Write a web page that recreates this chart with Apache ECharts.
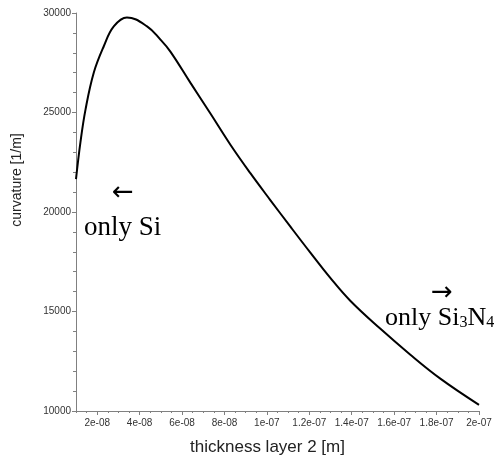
<!DOCTYPE html>
<html>
<head>
<meta charset="utf-8">
<script src="https://cdn.jsdelivr.net/npm/echarts@6/dist/echarts.min.js"></script>
<style>
  html, body { margin: 0; padding: 0; background: #fff; }
  #chart { width: 499px; height: 466px; }
</style>
</head>
<body>
<div id="chart"></div>
<script>
// thickness of layer 2 [m] and resulting curvature [1/m]
const thickness = [
  1.0e-8, 1.21e-8, 1.45e-8, 1.84e-8, 2.31e-8, 2.78e-8, 3.4e-8, 4.35e-8,
  4.98e-8, 5.45e-8, 6.39e-8, 7.33e-8, 8.28e-8, 9.22e-8, 1.016e-7, 1.11e-7,
  1.204e-7, 1.298e-7, 1.393e-7, 1.534e-7, 1.675e-7, 1.816e-7, 2.0e-7
];
const curvature = [
  21650, 23510, 25160, 27010, 28330, 29330, 29780, 29330,
  28665, 28060, 26500, 24960, 23380, 21950, 20600, 19275,
  17970, 16700, 15540, 14140, 12840, 11640, 10310
];
// labelled ticks on the x axis
const xLabels = [2e-8, 4e-8, 6e-8, 8e-8, 1e-7, 1.2e-7, 1.4e-7, 1.6e-7, 1.8e-7, 2e-7];

// minor ticks every 5e-9 on the x axis
const xMinor = [];
for (let i = 2; i <= 40; i++) {
  xMinor.push(i * 5e-9);
}

// "2e-08" style labels like the original software
function expLabel(v) {
  let s = Number(v.toPrecision(3)).toExponential();
  return s.replace(/e([+-])(\d)$/, "e$10$2");
}

const chart = echarts.init(document.getElementById("chart"));

const axisColor = "#808080";
const labelColor = "#333";

const option = {
  backgroundColor: "#fff",
  animation: false,
  grid: {
    left: 76,
    right: 20,
    top: 13,
    bottom: 55,
  },
  xAxis: [
    {
      type: "value",
      min: 1e-8,
      max: 2e-7,
      name: "thickness layer 2 [m]",
      nameLocation: "middle",
      nameGap: 28,
      nameTextStyle: {
        fontFamily: "Liberation Sans",
        fontSize: 17,
        color: "#222",
        padding: [0, 20, 0, 0],
      },
      axisLine: { lineStyle: { color: axisColor } },
      axisTick: { customValues: xLabels, length: 4, lineStyle: { color: axisColor } },
      axisLabel: {
        customValues: xLabels,
        formatter: expLabel,
        fontFamily: "Liberation Sans",
        fontSize: 10,
        color: labelColor,
        margin: 7,
      },
      splitLine: { show: false },
    },
    {
      // only carries the small ticks
      type: "value",
      min: 1e-8,
      max: 2e-7,
      position: "bottom",
      axisLine: { show: false },
      axisTick: { customValues: xMinor, length: 2, lineStyle: { color: axisColor } },
      axisLabel: { show: false },
      splitLine: { show: false },
    },
  ],
  yAxis: {
    type: "value",
    min: 10000,
    max: 30000,
    interval: 5000,
    name: "curvature [1/m]",
    nameLocation: "middle",
    nameRotate: 90,
    nameGap: 52,
    nameTextStyle: {
      fontFamily: "Liberation Sans",
      fontSize: 14,
      color: "#222",
      padding: [0, 0, 0, 64],
    },
    axisLine: { show: true, lineStyle: { color: axisColor } },
    axisTick: { show: true, length: 4, lineStyle: { color: axisColor } },
    minorTick: { show: true, splitNumber: 5, length: 3, lineStyle: { color: axisColor } },
    axisLabel: {
      formatter: v => String(v),
      fontFamily: "Liberation Sans",
      fontSize: 10,
      color: labelColor,
      margin: 5,
    },
    splitLine: { show: false },
  },
  graphic: [
    {
      type: "text",
      x: 123,
      y: 193,
      style: {
        text: "←",
        fontFamily: "DejaVu Sans",
        fontSize: 26,
        fill: "#000",
        align: "center",
        verticalAlign: "middle",
      },
    },
    {
      type: "text",
      x: 84,
      y: 228,
      style: {
        text: "only Si",
        fontFamily: "Liberation Serif",
        fontSize: 27,
        fill: "#000",
        align: "left",
        verticalAlign: "middle",
      },
    },
    {
      type: "text",
      x: 442,
      y: 293,
      style: {
        text: "→",
        fontFamily: "DejaVu Sans",
        fontSize: 26,
        fill: "#000",
        align: "center",
        verticalAlign: "middle",
      },
    },
    {
      type: "text",
      x: 385,
      y: 318,
      style: {
        text: "{a|only Si}{s|3}{a|N}{s|4}",
        fill: "#000",
        align: "left",
        verticalAlign: "middle",
        rich: {
          a: { fontFamily: "Liberation Serif", fontSize: 26, fill: "#000" },
          s: { fontFamily: "Liberation Serif", fontSize: 16, fill: "#000", padding: [10, 0, 0, 0] },
        },
      },
    },
  ],
  series: [
    {
      type: "line",
      xAxisIndex: 0,
      data: thickness.map((t, i) => [t, curvature[i]]),
      smooth: 0.4,
      showSymbol: false,
      lineStyle: { color: "#000", width: 2 },
    },
  ],
};

chart.setOption(option);
</script>
</body>
</html>
